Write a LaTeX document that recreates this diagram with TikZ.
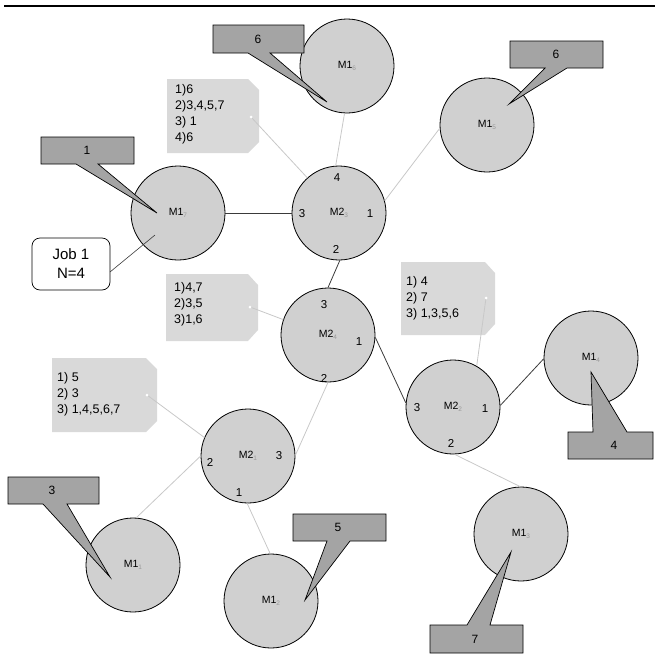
\documentclass[tikz,border=0pt]{standalone}
\usepackage{fontspec}
\setmainfont{Liberation Sans}
\definecolor{circfill}{HTML}{D0D0D0}
\definecolor{callfill}{HTML}{A4A4A4}
\definecolor{tagfill}{HTML}{D9D9D9}
\definecolor{lightline}{HTML}{C8C8C8}
\definecolor{darkline}{HTML}{3A3A3A}
\definecolor{subgray}{HTML}{9A9A9A}
\newcommand\MachLab[2]{M#1{\fontsize{6.5}{6.5}\selectfont\color{subgray}\raisebox{-1.5pt}{#2}}}
\tikzset{
  mach/.style={circle, draw=black, line width=0.8pt, fill=circfill, minimum size=94pt, inner sep=0pt, font=\fontsize{10.5}{12}\selectfont},
  port/.style={inner sep=0pt, font=\fontsize{11.5}{12}\selectfont},
  darklink/.style={draw=darkline, line width=0.8pt},
  lightlink/.style={draw=lightline, line width=0.8pt},
  callshape/.style={fill=callfill, draw=black, line width=0.7pt, line join=miter},
  callnum/.style={inner sep=0pt, font=\fontsize{12}{12}\selectfont},
  tagshape/.style={fill=tagfill, draw=none},
  tagtext/.style={anchor=west, align=left, inner sep=0pt, font=\fontsize{12.5}{16}\selectfont},
  holedot/.style={circle, fill=white, inner sep=0pt, minimum size=3pt},
  jobbox/.style={rounded corners=8pt, draw=black, line width=0.7pt, fill=white, minimum width=78pt, minimum height=52pt, align=center, inner sep=0pt, font=\fontsize{15}{19}\selectfont}
}
\begin{document}
\begin{tikzpicture}[x=1pt,y=-1pt]
\useasboundingbox (0,0) rectangle (655,653);
% top rule
\draw[line width=1.6pt] (4,6) -- (655,6);

% tags (drawn first so links start under them)
\fill[tagshape] (167,79) -- (248,79) -- (259,90) -- (259,142) -- (248,153) -- (167,153) -- cycle;
\fill[tagshape] (166,274) -- (248,274) -- (258,285) -- (258,330) -- (248,341) -- (166,341) -- cycle;
\fill[tagshape] (401,262) -- (485,262) -- (495,273) -- (495,324) -- (485,335) -- (401,335) -- cycle;
\fill[tagshape] (52,358) -- (146,358) -- (157,369) -- (157,421) -- (146,432) -- (52,432) -- cycle;
\coordinate (hole1) at (251,117);
\coordinate (hole2) at (250,307);
\coordinate (hole3) at (486,298);
\coordinate (hole4) at (147,395);

% machines
\node[mach] (m16) at (347,66)  {\MachLab{1}{6}};
\node[mach] (m15) at (487,125) {\MachLab{1}{5}};
\node[mach] (m17) at (178,213) {\MachLab{1}{7}};
\node[mach] (m23) at (339,213) {\MachLab{2}{3}};
\node[mach] (m24) at (328,335) {\MachLab{2}{4}};
\node[mach] (m22) at (453,407) {\MachLab{2}{2}};
\node[mach] (m14) at (591,358) {\MachLab{1}{4}};
\node[mach] (m21) at (248,456) {\MachLab{2}{1}};
\node[mach] (m11) at (133,565) {\MachLab{1}{1}};
\node[mach] (m12) at (271,601) {\MachLab{1}{2}};
\node[mach] (m13) at (521,534) {\MachLab{1}{3}};

% links
\draw[darklink]  (m17.0)   -- (m23.180);
\draw[lightlink] (m16.267) -- (m23.94);
\draw[lightlink] (m15.184) -- (m23.15);
\draw[darklink]  (m23.271) -- (m24.90);
\draw[darklink]  (m24.357) -- (m22.175);
\draw[darklink]  (m22.2)   -- (m14.181);
\draw[lightlink] (m22.272) -- (m13.91);
\draw[lightlink] (m24.270) -- (m21.1);
\draw[lightlink] (m21.180) -- (m11.86);
\draw[lightlink] (m21.269) -- (m12.91);
\draw[lightlink] (hole1) -- (m23.132);
\draw[lightlink] (hole2) -- (m24.161);
\draw[lightlink] (hole3) -- (m22.60);
\draw[lightlink] (hole4) -- (m21.157);

% tag texts and holes
\node[tagtext] (tag1) at (175,114) {1)6\\2)3,4,5,7\\3) 1\\4)6};
\node[tagtext] (tag2) at (174,304) {1)4,7\\2)3,5\\3)1,6};
\node[tagtext] (tag3) at (406,298) {1) 4\\2) 7\\3) 1,3,5,6};
\node[tagtext] (tag4) at (57,394)  {1) 5\\2) 3\\3) 1,4,5,6,7};
\node[holedot] (h1) at (hole1) {};
\node[holedot] (h2) at (hole2) {};
\node[holedot] (h3) at (hole3) {};
\node[holedot] (h4) at (hole4) {};

% port numbers
\node[port] (p23a) at (337,178) {4};
\node[port] (p23b) at (302,214) {3};
\node[port] (p23c) at (370,214) {1};
\node[port] (p23d) at (336,249) {2};
\node[port] (p24a) at (324,305) {3};
\node[port] (p24b) at (359,342) {1};
\node[port] (p24c) at (324,378) {2};
\node[port] (p22a) at (417,408) {3};
\node[port] (p22b) at (485,409) {1};
\node[port] (p22c) at (451,443) {2};
\node[port] (p21a) at (210,462) {2};
\node[port] (p21b) at (279,456) {3};
\node[port] (p21c) at (239,493) {1};

% callouts
\draw[callshape] (213,25) -- (304,25) -- (304,53) -- (270,53) -- (327,102) -- (248,53) -- (213,53) -- cycle;
\node[callnum] (c6a) at (258,39) {6};
\draw[callshape] (510,41) -- (603,41) -- (603,68) -- (567,68) -- (509,104) -- (545,68) -- (510,68) -- cycle;
\node[callnum] (c6b) at (556,54) {6};
\draw[callshape] (41,137) -- (134,137) -- (134,164) -- (98,164) -- (157,213) -- (76,164) -- (41,164) -- cycle;
\node[callnum] (c1) at (87,150) {1};
\draw[callshape] (568,432) -- (593,432) -- (591,372) -- (627,432) -- (653,432) -- (653,459) -- (568,459) -- cycle;
\node[callnum] (c4) at (614,445) {4};
\draw[callshape] (8,477) -- (99,477) -- (99,504) -- (67,504) -- (110,577) -- (43,504) -- (8,504) -- cycle;
\node[callnum] (c3) at (52,490) {3};
\draw[callshape] (293,514) -- (386,514) -- (386,541) -- (350,541) -- (305,600) -- (327,541) -- (293,541) -- cycle;
\node[callnum] (c5) at (338,527) {5};
\draw[callshape] (430,625) -- (467,625) -- (511,552) -- (490,625) -- (523,625) -- (523,653) -- (430,653) -- cycle;
\node[callnum] (c7) at (475,639) {7};

% job box
\node[jobbox] (job) at (71,264) {Job 1\\N=4};
\coordinate (jobstart) at (110,272);
\coordinate (jobtip) at (155,235);
\draw[draw=darkline, line width=0.6pt] (jobstart) -- (jobtip);
\end{tikzpicture}
\end{document}
